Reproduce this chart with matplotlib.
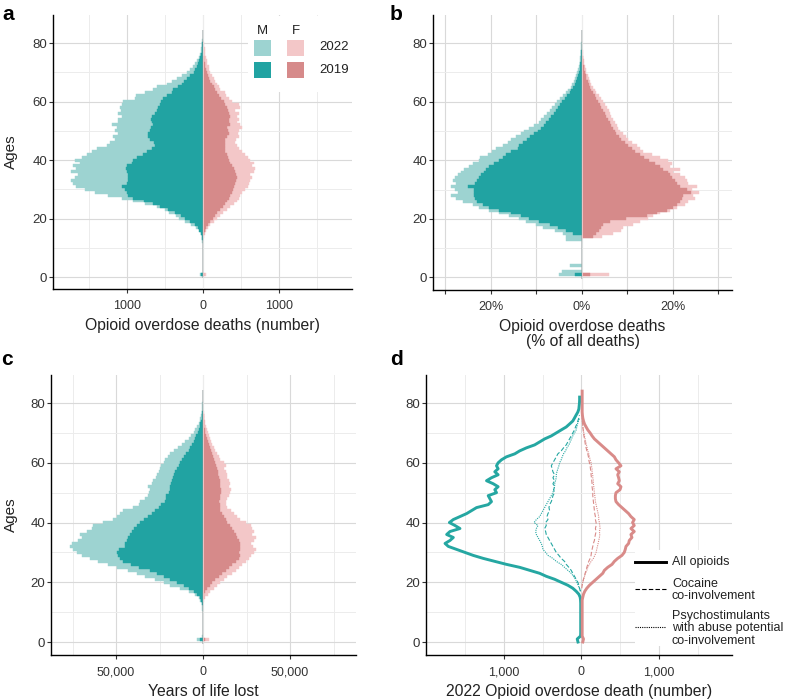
import matplotlib
matplotlib.use("Agg")
import matplotlib.pyplot as plt
import numpy as np
from matplotlib.patches import Rectangle
from matplotlib.lines import Line2D

plt.rcParams['font.family'] = ['Liberation Sans', 'DejaVu Sans']

# ---------------- DATA ----------------
AGES = list(range(0, 85))

# Panel a: opioid overdose deaths (number)
A_M_2022 = [0, 44, 5, 3, 3, 2, 2, 2, 2, 3, 3, 4, 6, 9, 13, 22, 44, 85, 150, 240,
            310, 360, 440, 500, 607, 761, 915, 1070, 1245, 1421, 1553, 1663, 1707, 1738, 1685, 1641, 1729, 1663, 1707, 1619,
            1685, 1597, 1531, 1465, 1399, 1267, 1223, 1157, 1179, 1113, 1157, 1135, 1201, 1113, 1113, 1070, 1113, 1078, 1091, 1070,
            1047, 893, 884, 760, 650, 607, 475, 410, 343, 270, 211, 170, 132, 100, 75, 57, 42, 30, 22, 15,
            12, 8, 5, 3, 2]
A_M_2019 = [0, 30, 3, 2, 2, 2, 2, 2, 2, 2, 2, 3, 4, 7, 10, 22, 48, 70, 110, 170,
            230, 290, 370, 460, 560, 660, 780, 915, 981, 1003, 1025, 1060, 1003, 981, 990, 990, 1003, 1016, 1003, 937,
            915, 871, 783, 739, 673, 629, 638, 695, 726, 717, 695, 682, 651, 664, 682, 673, 629, 607, 585, 563,
            550, 519, 475, 409, 387, 321, 277, 245, 211, 165, 123, 100, 79, 60, 45, 35, 25, 18, 12, 8,
            6, 4, 3, 2, 1]
A_F_2022 = [0, 44, 3, 2, 2, 2, 2, 2, 2, 2, 2, 2, 3, 5, 9, 22, 40, 66, 97, 141,
            185, 229, 260, 317, 361, 405, 449, 471, 493, 515, 559, 594, 612, 625, 647, 625, 669, 682, 647, 669,
            625, 594, 559, 515, 471, 449, 427, 436, 480, 462, 471, 515, 493, 449, 471, 449, 471, 427, 493, 471,
            383, 339, 304, 286, 229, 207, 185, 160, 141, 118, 97, 85, 75, 60, 50, 40, 32, 26, 22, 15,
            10, 8, 6, 4, 3]
A_F_2019 = [0, 20, 2, 2, 2, 2, 2, 2, 2, 2, 2, 2, 2, 3, 5, 9, 22, 40, 66, 97,
            128, 163, 185, 229, 260, 295, 317, 339, 361, 383, 392, 405, 427, 436, 449, 436, 418, 405, 383, 361,
            339, 330, 317, 295, 286, 286, 286, 295, 317, 339, 330, 317, 361, 348, 339, 361, 339, 330, 317, 295,
            273, 242, 216, 185, 163, 141, 119, 100, 84, 68, 53, 42, 31, 22, 15, 9, 7, 5, 4, 3,
            2, 1, 1, 1, 1]

# Panel b: opioid overdose deaths (% of all deaths)
B_M_2022 = [0, 5.1, 4.3, 0, 2.6, 0, 0, 0, 0, 0, 0, 0, 0, 3.4, 3.4, 4.1, 6.0, 8.5, 10.0, 12.2,
            13.7, 15.9, 18.1, 20.3, 22.5, 24.0, 26.2, 27.6, 28.7, 27.3, 27.8, 28.7, 27.6, 28.4, 27.8, 27.3, 26.5, 25.8, 24.7, 24.0,
            22.5, 22.3, 20.7, 19.7, 18.8, 17.3, 16.2, 15.5, 14.4, 13.3, 12.6, 11.5, 10.4, 9.5, 8.9, 8.2, 7.6, 7.1, 6.5, 6.0,
            5.4, 4.9, 4.1, 3.5, 3.0, 2.4, 2.1, 1.8, 1.5, 1.2, 1.0, 0.8, 0.6, 0.5, 0.4, 0.3, 0.25, 0.2, 0.15, 0.1,
            0.1, 0.05, 0.05, 0, 0]
B_M_2019 = [0, 1.6, 0, 0, 0, 0, 0, 0, 0, 0, 0, 0, 0, 0, 0, 1.9, 3.4, 5.2, 7.1, 9.3,
            11.5, 13.3, 15.5, 18.1, 20.3, 21.8, 23.1, 23.4, 23.6, 23.6, 23.6, 25.1, 23.4, 23.1, 22.6, 22.1, 21.4, 21.0, 20.3, 19.2,
            18.1, 17.3, 16.6, 15.5, 14.0, 13.7, 12.9, 12.1, 11.3, 10.4, 9.6, 8.9, 8.2, 7.8, 7.2, 6.7, 6.2, 5.7, 5.2, 4.7,
            4.3, 3.7, 3.2, 2.6, 2.3, 1.9, 1.5, 1.25, 1.0, 0.8, 0.6, 0.5, 0.4, 0.3, 0.2, 0.15, 0.1, 0.08, 0.05, 0.03,
            0.02, 0.02, 0, 0, 0]
B_F_2022 = [0, 6.0, 0, 0, 0, 0, 0, 0, 0, 0, 0, 0, 0, 0, 4.5, 6.9, 8.7, 9.0, 11.3, 12.8,
            14.5, 15.7, 17.2, 19.4, 20.9, 22.7, 23.4, 24.9, 24.5, 25.7, 24.2, 25.3, 23.4, 23.1, 22.7, 21.6, 20.1, 21.5, 19.4, 19.8,
            19.0, 17.2, 15.4, 13.5, 12.8, 12.1, 11.0, 10.2, 9.7, 9.0, 8.4, 8.0, 7.8, 7.3, 6.9, 6.5, 6.3, 6.0, 5.6, 5.1,
            4.7, 4.2, 3.8, 3.2, 2.9, 2.5, 2.1, 1.85, 1.6, 1.3, 1.0, 0.85, 0.7, 0.55, 0.4, 0.3, 0.22, 0.15, 0.1, 0.08,
            0.05, 0.03, 0, 0, 0]
B_F_2019 = [0, 1.8, 0, 0, 0, 0, 0, 0, 0, 0, 0, 0, 0, 0, 2.5, 3.2, 3.8, 4.3, 4.7, 6.2,
            9.8, 14.3, 16.5, 18.7, 20.1, 21.0, 21.5, 22.0, 22.3, 24.0, 23.1, 21.5, 20.9, 20.5, 19.8, 19.4, 19.0, 17.9, 17.2, 16.1,
            14.8, 13.7, 12.8, 11.7, 11.0, 10.2, 9.5, 8.7, 8.2, 7.6, 7.3, 6.9, 6.5, 6.2, 5.8, 5.4, 5.1, 4.7, 4.3, 4.0,
            3.6, 3.2, 2.9, 2.5, 2.1, 1.8, 1.5, 1.25, 1.0, 0.85, 0.7, 0.55, 0.4, 0.3, 0.2, 0.15, 0.1, 0.07, 0.05, 0.03,
            0.02, 0, 0, 0, 0]

# Panel c: years of life lost
C_M_2022 = [0, 3500, 500, 300, 300, 300, 300, 300, 300, 300, 300, 400, 500, 600, 1500, 2500, 4400, 8300, 13100, 18800,
            22700, 27500, 33300, 38100, 42900, 49600, 54400, 60200, 65000, 69800, 72700, 74600, 76200, 75600, 71700, 69800, 70800, 66900, 64000, 63100,
            57300, 51500, 49600, 47700, 45800, 40000, 37100, 36500, 33300, 31900, 31300, 30400, 31900, 29400, 28500, 26900, 26500, 25600, 25000, 24200,
            22700, 21700, 20400, 18800, 16900, 14600, 12100, 10200, 8300, 6900, 5400, 4400, 3500, 2500, 1900, 1500, 1150, 850, 600, 500,
            400, 250, 150, 100, 50]
C_M_2019 = [0, 1900, 200, 200, 200, 200, 200, 200, 200, 200, 200, 200, 200, 600, 1150, 1900, 3500, 5400, 8300, 11200,
            15000, 18800, 22700, 26500, 30400, 37100, 41500, 45800, 47700, 48700, 49600, 48100, 44800, 44800, 43800, 42900, 41900, 41000, 39600, 37700,
            36200, 34200, 31900, 29400, 27500, 25600, 24200, 21700, 21200, 21200, 19800, 19200, 18800, 18500, 17900, 17300, 16500, 16000, 15000, 14000,
            13100, 12100, 11200, 9600, 8300, 7300, 6300, 5400, 4600, 3800, 3100, 2500, 1900, 1500, 1150, 800, 600, 400, 200, 150,
            100, 50, 50, 50, 50]
C_F_2022 = [0, 3300, 150, 150, 150, 150, 150, 150, 150, 150, 150, 150, 150, 150, 770, 1350, 2700, 4200, 6200, 8100,
            10000, 11900, 13800, 16700, 18700, 20600, 22500, 24400, 26300, 27300, 29200, 30200, 28800, 27300, 29200, 30200, 28300, 29200, 28300, 27300,
            24400, 21500, 19600, 17700, 15800, 13800, 12900, 12900, 13800, 14800, 15400, 15800, 14800, 15400, 14800, 13800, 13500, 12900, 12300, 12900,
            11900, 10000, 9000, 8100, 7100, 6200, 5200, 4600, 3800, 3300, 2700, 2300, 1700, 1350, 1000, 770, 400, 300, 200, 150,
            100, 50, 50, 50, 50]
C_F_2019 = [0, 1350, 100, 100, 100, 100, 100, 100, 100, 100, 100, 100, 100, 100, 100, 400, 770, 1350, 2300, 3800,
            5200, 7100, 9000, 11000, 12900, 14800, 16700, 18700, 20600, 21200, 20600, 21200, 21500, 21500, 20600, 19600, 18700, 17700, 16700, 15400,
            13800, 12900, 11900, 11000, 10000, 9600, 9600, 9000, 9600, 10000, 10400, 10400, 10000, 9600, 9600, 9200, 8800, 8500, 8100, 7700,
            7100, 6500, 5800, 5200, 4600, 3800, 3300, 2800, 2300, 1800, 1350, 1100, 770, 600, 500, 400, 300, 200, 150, 100,
            50, 50, 50, 50, 50]

# Panel d: 2022 opioid overdose deaths (number) by co-involvement
D_AGES_M_ALL = list(range(0, 83))
D_M_ALL = [45, 55, 12, 10, 10, 10, 10, 10, 10, 10, 10, 10, 10, 10, 12, 17, 34, 69, 112, 176,
           262, 347, 455, 540, 669, 798, 970, 1120, 1270, 1399, 1506, 1613, 1720, 1763, 1699, 1656, 1742, 1699, 1570, 1634,
           1707, 1656, 1570, 1484, 1420, 1356, 1205, 1163, 1184, 1205, 1098, 1120, 1077, 1141, 1227, 1163, 1077, 1120, 1077, 1098,
           1077, 1034, 970, 862, 798, 712, 605, 540, 476, 390, 326, 262, 197, 154, 112, 90, 69, 47, 34, 30,
           26, 24, 24]
D_AGES_F_ALL = list(range(0, 85))
D_F_ALL = [17, 26, 9, 9, 9, 9, 9, 9, 9, 9, 9, 9, 9, 9, 9, 17, 26, 43, 69, 103,
           146, 189, 232, 275, 296, 339, 395, 425, 468, 523, 553, 566, 575, 609, 618, 652, 639, 682, 639, 682,
           660, 682, 639, 609, 566, 523, 480, 446, 438, 438, 446, 498, 510, 468, 489, 480, 468, 489, 446, 510,
           480, 446, 425, 382, 339, 296, 253, 210, 167, 137, 112, 82, 60, 39, 26, 17, 12, 9, 9, 9,
           9, 9, 9, 9, 9]
D_AGES_M_COC = list(range(17, 77))
D_M_COC = [13, 26, 34, 47, 69, 90, 112, 133, 163, 197, 219, 262, 292, 326, 347, 369, 390, 412, 433, 455,
           463, 476, 455, 463, 433, 446, 433, 412, 420, 412, 390, 378, 369, 347, 360, 347, 369, 347, 369, 347,
           369, 378, 390, 369, 347, 326, 305, 262, 232, 197, 176, 154, 133, 112, 90, 77, 60, 47, 34, 26]
D_AGES_M_PSY = list(range(17, 76))
D_M_PSY = [13, 26, 43, 60, 77, 103, 133, 176, 219, 262, 326, 369, 433, 463, 498, 506, 519, 540, 562, 583,
           592, 583, 562, 613, 583, 540, 519, 498, 476, 455, 433, 412, 390, 369, 360, 347, 347, 335, 326, 326,
           317, 305, 292, 283, 262, 249, 232, 206, 189, 163, 146, 129, 112, 90, 69, 60, 51, 39, 26]
D_AGES_F_COC = list(range(18, 76))
D_F_COC = [4, 9, 17, 26, 39, 47, 60, 69, 82, 94, 112, 124, 129, 137, 146, 154, 167, 172, 180, 189,
           180, 189, 189, 180, 180, 172, 167, 163, 159, 154, 150, 146, 146, 142, 137, 137, 133, 129, 124, 124,
           116, 112, 103, 94, 90, 82, 69, 60, 51, 45, 39, 32, 26, 22, 17, 14, 11, 9]
D_AGES_F_PSY = list(range(19, 76))
D_F_PSY = [9, 17, 26, 39, 51, 69, 82, 103, 124, 154, 172, 189, 197, 206, 215, 223, 232, 236, 232, 240,
           236, 232, 223, 223, 215, 206, 197, 189, 180, 176, 172, 167, 163, 159, 154, 154, 146, 146, 137, 137,
           129, 124, 112, 103, 94, 82, 73, 64, 55, 47, 38, 30, 25, 17, 14, 11, 9]

Y_TICKS = [0, 20, 40, 60, 80]
Y_MINOR = [10, 30, 50, 70]
A_XTICKS = [-1000, 0, 1000]
A_XLABELS = ['1000', '0', '1000']
A_XMINOR = [-1500, -500, 500, 1500]
B_XTICKS = [-30, -20, -10, 0, 10, 20, 30]
B_XLABELS = ['', '20%', '', '0%', '', '20%', '']
C_XTICKS = [-50000, 0, 50000]
C_XLABELS = ['50,000', '0', '50,000']
C_XMINOR = [-75000, -25000, 25000, 75000]
D_XTICKS = [-1000, 0, 1000]
D_XLABELS = ['1,000', '0', '1,000']
D_XMINOR = [-1500, -500, 500, 1500]

# ---------------- STYLE ----------------
LT_TEAL = '#9dd3d1'
DK_TEAL = '#21a3a2'
LT_PINK = '#f3c7c8'
DK_PINK = '#d68a8a'
LINE_TEAL = '#25a7a2'
LINE_PINK = '#d98b89'
MAJ_GRID = '#d9d9d9'
MIN_GRID = '#ececec'
TXT = '#222222'
TICK_TXT = '#333333'

W, H = 787, 699
fig = plt.figure(figsize=(W / 100, H / 100), dpi=100)
fig.patch.set_facecolor('white')


def px_axes(l, t, r, b):
    return fig.add_axes([l / W, 1 - b / H, (r - l) / W, (b - t) / H])


def style(ax, xlim, ylim, xt, xl, xminor, xlabel, ylabel=None, ylab_x=None):
    ax.set_xlim(*xlim)
    ax.set_ylim(*ylim)
    ax.set_xticks(xt)
    ax.set_xticklabels(xl)
    ax.set_xticks(xminor, minor=True)
    ax.set_yticks(Y_TICKS)
    ax.set_yticks(Y_MINOR, minor=True)
    ax.set_axisbelow(True)
    ax.grid(which='major', color=MAJ_GRID, lw=0.8)
    ax.grid(which='minor', color=MIN_GRID, lw=0.7)
    for s in ['top', 'right']:
        ax.spines[s].set_visible(False)
    for s in ['left', 'bottom']:
        ax.spines[s].set_color('black')
        ax.spines[s].set_linewidth(1.0)
    ax.tick_params(which='major', direction='out', length=2.6, width=0.8, color='#333333',
                   labelcolor=TICK_TXT)
    ax.tick_params(axis='x', which='major', labelsize=9, pad=5.5)
    ax.tick_params(axis='y', which='major', labelsize=9.5, pad=1.5)
    ax.tick_params(which='minor', length=0)
    ax.set_xlabel(xlabel, fontsize=11.3, color=TXT, labelpad=4, linespacing=1.05)
    if ylabel:
        ax.set_ylabel(ylabel, fontsize=11, color=TXT)
        ax.yaxis.set_label_coords(ylab_x, 0.5)


def pyramid(ax, m22, m19, f22, f19):
    ax.barh(AGES, [-v for v in m22], height=1.0, color=LT_TEAL, edgecolor=LT_TEAL, lw=0.3, zorder=2)
    ax.barh(AGES, f22, height=1.0, color=LT_PINK, edgecolor=LT_PINK, lw=0.3, zorder=2)
    ax.barh(AGES, [-v for v in m19], height=1.0, color=DK_TEAL, edgecolor=DK_TEAL, lw=0.3, zorder=3)
    ax.barh(AGES, f19, height=1.0, color=DK_PINK, edgecolor=DK_PINK, lw=0.3, zorder=3)
    ax.axvline(0, color='white', lw=0.6, alpha=0.6, zorder=4)


# Panel a
ax_a = px_axes(53, 15, 352, 289)
pyramid(ax_a, A_M_2022, A_M_2019, A_F_2022, A_F_2019)
style(ax_a, (-1972, 1962), (-4.1, 89.6), A_XTICKS, A_XLABELS, A_XMINOR,
      'Opioid overdose deaths (number)', 'Ages', (17.5 - 53) / 299)

# Panel b
ax_b = px_axes(433, 15, 732, 290)
pyramid(ax_b, B_M_2022, B_M_2019, B_F_2022, B_F_2019)
style(ax_b, (-32.7, 33.0), (-4.3, 89.6), B_XTICKS, B_XLABELS, [],
      'Opioid overdose deaths\n(% of all deaths)')

# Panel c
ax_c = px_axes(51, 375, 356, 655)
pyramid(ax_c, C_M_2022, C_M_2019, C_F_2022, C_F_2019)
style(ax_c, (-87400, 87900), (-4.35, 89.4), C_XTICKS, C_XLABELS, C_XMINOR,
      'Years of life lost', 'Ages', (17.5 - 51) / 305)

# Panel d
ax_d = px_axes(426, 375, 732, 655)
ax_d.plot([-v for v in D_M_ALL], D_AGES_M_ALL, color=LINE_TEAL, lw=2.1, solid_joinstyle='round', zorder=3)
ax_d.plot(D_F_ALL, D_AGES_F_ALL, color=LINE_PINK, lw=2.1, solid_joinstyle='round', zorder=3)
ax_d.plot([-v for v in D_M_COC], D_AGES_M_COC, color=LINE_TEAL, lw=0.8, dashes=(4, 2), zorder=3)
ax_d.plot([-v for v in D_M_PSY], D_AGES_M_PSY, color=LINE_TEAL, lw=0.8, dashes=(1, 1), zorder=3)
ax_d.plot(D_F_COC, D_AGES_F_COC, color=LINE_PINK, lw=0.8, dashes=(4, 2), zorder=3)
ax_d.plot(D_F_PSY, D_AGES_F_PSY, color=LINE_PINK, lw=0.8, dashes=(1, 1), zorder=3)
style(ax_d, (-2009, 1945), (-4.35, 89.4), D_XTICKS, D_XLABELS, D_XMINOR,
      '2022 Opioid overdose death (number)')

# Panel letters
for letter, x, y in [('a', 2, 20), ('b', 390, 20), ('c', 1, 365), ('d', 390, 365)]:
    fig.text(x / W, 1 - y / H, letter, fontsize=15, fontweight='bold', va='baseline', ha='left')


def fx(x):
    return x / W


def fy(y):
    return 1 - y / H


# Legend panel a
fig.add_artist(Rectangle((fx(248), fy(92)), (352 - 248) / W, (92 - 16) / H,
                         transform=fig.transFigure, facecolor='white', edgecolor='none', zorder=5))
for col, xl in [('M', 254), ('F', 287)]:
    fig.text(fx(xl + 8.5), fy(31), col, fontsize=9.5, ha='center', va='center', color=TXT, zorder=6)
sw = [(254, 40, LT_TEAL), (287, 40, LT_PINK), (254, 62, DK_TEAL), (287, 62, DK_PINK)]
for x0, y0, c in sw:
    fig.add_artist(Rectangle((fx(x0), fy(y0 + 16)), 17 / W, 16 / H, transform=fig.transFigure,
                             facecolor=c, edgecolor='none', zorder=6))
fig.text(fx(319), fy(47.5), '2022', fontsize=9.5, ha='left', va='center', color=TXT, zorder=6)
fig.text(fx(319), fy(70), '2019', fontsize=9.5, ha='left', va='center', color=TXT, zorder=6)

# Legend panel d
fig.add_artist(Rectangle((fx(635), fy(646)), (787 - 635) / W, (646 - 550) / H,
                         transform=fig.transFigure, facecolor='white', edgecolor='none', zorder=5))
fig.add_artist(Line2D([fx(635), fx(666)], [fy(562), fy(562)], transform=fig.transFigure,
                      color='black', lw=2.1, zorder=6))
fig.add_artist(Line2D([fx(635), fx(666)], [fy(589), fy(589)], transform=fig.transFigure,
                      color='black', lw=0.8, dashes=(4, 2), zorder=6))
fig.add_artist(Line2D([fx(635), fx(666)], [fy(627), fy(627)], transform=fig.transFigure,
                      color='black', lw=0.8, dashes=(1, 1), zorder=6))
fig.text(fx(672), fy(562), 'All opioids', fontsize=9, ha='left', va='center', color=TXT, zorder=6)
fig.text(fx(672), fy(590), 'Cocaine\nco-involvement', fontsize=9, ha='left', va='center',
         color=TXT, linespacing=1.0, zorder=6)
fig.text(fx(672), fy(628.5), 'Psychostimulants\nwith abuse potential\nco-involvement', fontsize=9,
         ha='left', va='center', color=TXT, linespacing=1.0, zorder=6)

fig.savefig('out.png', dpi=100, facecolor='white')
